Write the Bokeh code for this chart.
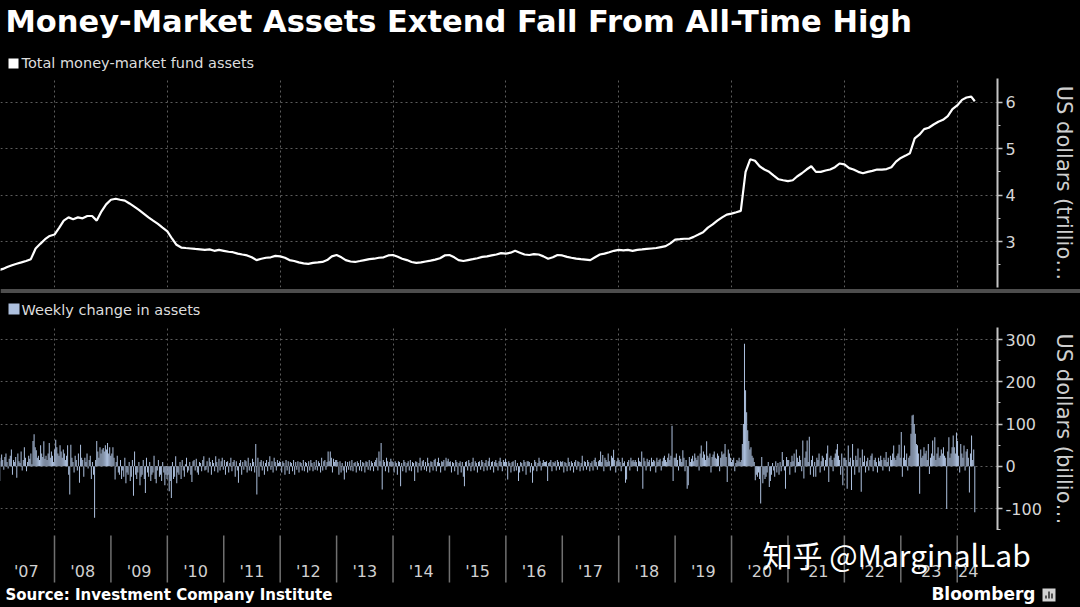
import numpy as np
import pandas as pd
from bokeh.plotting import figure
from bokeh.models import Range1d, FixedTicker, Span, Label
from bokeh.layouts import column
from bokeh.embed import file_html
from bokeh.resources import INLINE
from bokeh.core.properties import value

# ---------------- data ----------------
TITLE = "Money-Market Assets Extend Fall From All-Time High"
LEGEND_TOP = "Total money-market fund assets"
LEGEND_BOTTOM = "Weekly change in assets"
SOURCE = "Source: Investment Company Institute"
WATERMARK = "知乎 @MarginalLab"

# Total money-market fund assets, US$ trillions, first of each month
lvl_2007 = [2.38, 2.41, 2.45, 2.49, 2.52, 2.55, 2.58, 2.62, 2.85, 2.95, 3.05, 3.12]
lvl_2008 = [3.15, 3.30, 3.45, 3.52, 3.48, 3.52, 3.50, 3.55, 3.55, 3.45, 3.65, 3.80]
lvl_2009 = [3.90, 3.92, 3.90, 3.88, 3.82, 3.75, 3.68, 3.60, 3.52, 3.45, 3.38, 3.30]
lvl_2010 = [3.22, 3.06, 2.93, 2.87, 2.86, 2.85, 2.84, 2.83, 2.82, 2.83, 2.80, 2.82]
lvl_2011 = [2.80, 2.78, 2.77, 2.74, 2.72, 2.70, 2.66, 2.60, 2.63, 2.65, 2.66, 2.69]
lvl_2012 = [2.68, 2.65, 2.60, 2.58, 2.55, 2.53, 2.52, 2.54, 2.55, 2.56, 2.60, 2.68]
lvl_2013 = [2.71, 2.66, 2.60, 2.57, 2.56, 2.58, 2.60, 2.62, 2.63, 2.65, 2.66, 2.70]
lvl_2014 = [2.71, 2.67, 2.63, 2.60, 2.56, 2.54, 2.55, 2.57, 2.59, 2.61, 2.64, 2.70]
lvl_2015 = [2.71, 2.66, 2.60, 2.58, 2.60, 2.62, 2.64, 2.67, 2.68, 2.70, 2.72, 2.75]
lvl_2016 = [2.74, 2.76, 2.80, 2.76, 2.72, 2.71, 2.73, 2.72, 2.68, 2.63, 2.66, 2.71]
lvl_2017 = [2.70, 2.67, 2.65, 2.63, 2.62, 2.61, 2.60, 2.66, 2.72, 2.74, 2.77, 2.80]
lvl_2018 = [2.82, 2.81, 2.82, 2.80, 2.82, 2.83, 2.84, 2.85, 2.86, 2.88, 2.90, 2.96]
lvl_2019 = [3.04, 3.05, 3.06, 3.06, 3.10, 3.15, 3.20, 3.30, 3.37, 3.45, 3.52, 3.58]
lvl_2020 = [3.60, 3.63, 3.66, 4.50, 4.77, 4.74, 4.62, 4.55, 4.50, 4.42, 4.34, 4.32]
lvl_2021 = [4.30, 4.32, 4.40, 4.47, 4.55, 4.62, 4.50, 4.50, 4.53, 4.55, 4.60, 4.68]
lvl_2022 = [4.66, 4.58, 4.55, 4.50, 4.47, 4.50, 4.52, 4.55, 4.55, 4.56, 4.60, 4.72]
lvl_2023 = [4.80, 4.85, 4.90, 5.22, 5.30, 5.42, 5.45, 5.52, 5.58, 5.62, 5.70, 5.85]
lvl_2024 = [5.93, 6.05, 6.10, 6.12]
lvl_latest_date = "2024-04-24"
lvl_latest = 6.02

# Weekly change in assets, US$ billions (weeks ending Wednesday)
chg = {
    2007: [-35, 12, 20, 28, 15, -8, 22, 30, 10, -5, 18, 25, 40, -20, 15, 10, 22, -27, 30, 12,
           8, 35, -10, 15, 45, 20, -12, 10, 25, 18, 30, 5, 60, 76, 45, 38, 20, 25, 15, 50,
           30, 22, 59, 18, 25, 15, 30, 55, 20, 35, 25, 10],
    2008: [40, 63, 45, 30, 25, 50, 35, 20, 40, 30, 15, 25, 50, -20, -67, 51, 20, 10, -15, 25,
           15, -10, 30, -39, 51, 20, 15, -25, 20, 10, 30, -5, 15, 25, -30, 10, -20, -122, 15, 60,
           35, 20, 45, 30, 40, 43, 35, 50, 40, 55, 30, 45, 25],
    2009: [30, 45, 20, -31, 10, 25, -15, -20, 15, -30, -10, -25, 20, -40, -15, -20, 10, -35, -25, 15,
           -70, 35, -20, -30, -15, 10, -45, -25, -20, 15, -30, -63, 20, -15, -25, 10, -35, -20, -15, 25,
           -30, -40, -10, 15, -25, -20, -35, 10, -15, -45, -20, -30],
    2010: [-20, -59, -35, -75, 10, -30, -25, 24, -40, -15, -20, 10, -30, 15, -10, -25, 5, 20, -15, -10,
           10, -20, -37, 12, 15, -10, 18, -15, -20, 10, 8, -12, 15, 24, -10, -8, 12, -15, 20, 10,
           -20, 15, 8, -12, 24, 10, -15, 18, -10, 12, 20, -8],
    2011: [15, -20, 10, 12, -15, 8, 20, -12, 10, 15, -25, 12, -10, -39, 8, 15, -20, 10, -8, 15,
           12, -15, 20, -10, 8, -12, 18, 10, -15, 53, -67, 20, -25, 10, 15, -10, 12, -20, 8, 15,
           -12, 10, 24, -8, 12, -15, 20, 10, -10, 15, 8, 12],
    2012: [10, -15, 12, 8, -20, 15, -10, 12, -18, 10, 8, -12, 15, -20, 10, -8, 12, -15, 10, 8,
           -10, 15, -12, 10, 8, -15, 12, -10, 15, 8, -12, 10, -8, 15, -10, 12, 8, -15, 20, -10,
           12, 15, -8, 10, 35, 12, 35, 20, -15, 18, 10, 15],
    2013: [15, 10, -20, 12, -15, 8, -10, -31, 12, -15, 10, -8, 12, -10, 15, -12, 8, 10, -15, 12,
           8, -10, 15, -12, 10, 8, -15, 12, 10, -8, 15, -10, 12, 8, -12, 10, 15, 20, -10, 35,
           12, 55, -55, 15, 10, -12, 20, 12, -15, 10, 18, 12],
    2014: [10, -15, 12, 8, -20, 12, 10, -47, 8, -12, 15, 10, -15, 8, 12, -10, 15, -12, 10, 8,
           -35, 12, 10, -15, 8, 20, -10, 12, 15, -8, 10, -12, 20, 8, -15, 12, 10, -10, 15, 18,
           -12, 10, 20, 8, -15, 12, 10, 15, -10, 20, 12, 18, 10],
    2015: [12, -15, 10, 8, -12, 15, 10, -20, 8, 12, -15, 10, -25, -47, 10, 12, -10, 15, 8, -12,
           10, 20, -10, 12, 8, -15, 10, 12, -8, 15, 10, -12, 8, 15, -10, 12, 20, -8, 10, 12,
           -15, 10, 15, 8, -10, 12, 20, 10, -12, 15, 10, 18],
    2016: [10, -31, 12, 8, -15, 10, 12, -12, 15, -10, 8, -35, -15, 10, 8, -12, 15, 10, -20, 12,
           12, 10, -15, 8, -39, -10, 15, 10, -12, 8, 20, 12, -10, 8, 15, 10, 10, 12, -35, 8,
           10, 15, -12, 10, 8, 12, -10, 15, 10, -8, 12, 10],
    2017: [12, -15, 10, 8, -12, 20, 10, -10, 12, 8, -15, 10, 15, -8, 12, 10, -12, 8, 25, -10,
           12, 10, -8, 15, 10, -12, 8, 12, -10, 15, 20, 10, -8, 12, 15, 35, 10, 27, -12, 20,
           15, 10, 30, 12, -10, 25, 20, 39, 15, -15, 12, 20],
    2018: [15, 10, -12, 20, 8, 12, -39, -31, 10, 15, -10, 20, 12, 15, 10, 15, 10, -12, 20, 12,
           10, 35, -53, 20, 12, -10, 18, 10, 15, -12, 20, 10, 15, 12, -15, 20, 10, 15, 18, -10,
           12, 20, 25, 15, 10, 20, 30, 15, 25, 96, -35, 20],
    2019: [20, 30, 15, -10, 25, 18, 10, 38, 20, -12, 15, -53, -45, 22, 10, 18, 25, 12, 30, 20,
           15, 25, -10, 30, 49, 20, 35, 28, 15, 59, 25, 20, 30, -15, 22, 28, 35, 20, 18, 30,
           25, -12, 20, 35, 28, 30, 53, 22, -37, 40, 30, 20],
    2020: [10, 15, 20, -12, 8, 15, 12, 20, 10, 15, 53, 100, 290, 180, 128, 85, 60, 40, 45, 25,
           20, 10, -33, -20, -25, -15, -30, -88, 22, -40, -20, -30, -25, -15, 10, -49, -35, -20, 8, -10,
           -25, 12, -15, 8, -20, 10, -12, 34, 15, -10, -53, 22, 15],
    2021: [15, -20, 10, 25, 12, 30, -15, 40, 20, 10, 25, 15, -12, 61, -29, 20, 35, 61, 10, 70,
           -20, 15, 25, -25, 10, -25, 20, 15, 30, -15, 12, 25, 20, -10, 15, 30, 49, -37, 20, 25,
           15, -12, 20, 30, 40, 53, 25, 15, -20, 30, -45, 20],
    2022: [20, 15, -53, 49, 10, 20, -56, 53, 15, -20, 25, 15, 42, -15, 20, -60, 40, 10, 25, -15,
           12, 20, -10, 15, 25, 30, -12, 15, 20, 10, -15, 20, 12, 25, 15, -10, 20, 15, 34, 10,
           20, -12, 25, 15, 30, 49, 20, 15, 25, 30, 51, 20],
    2023: [81, -25, 20, 49, 15, 30, -10, 20, 25, 77, 120, 122, 100, 77, 53, 50, 30, -65, 40, 20,
           25, 45, 30, 37, 15, 53, -18, 20, 30, 61, 25, 69, 15, 30, 45, 20, 25, 40, 30, 45,
           25, 20, -101, 35, 69, 20, 30, 45, 73, 45, 30, 80],
    2024: [60, 25, -15, 53, 30, 20, 49, -10, 35, 41, 20, -62, 30, 73, 15, 40, -109],
}

YEAR_TICKS = list(range(2007, 2025))
YEAR_LABELS = ["'07", "'08", "'09", "'10", "'11", "'12", "'13", "'14", "'15",
               "'16", "'17", "'18", "'19", "'20", "'21", "'22", "'23", "'24"]
TOP_TICKS = [3, 4, 5, 6]
TOP_MINOR = [2.5, 3.5, 4.5, 5.5]
BOT_TICKS = [-100, 0, 100, 200, 300]
BOT_MINOR = [-150, -50, 50, 150, 250]
GRID_YEARS = list(range(2008, 2025, 2))

# ---------------- helpers ----------------
def dec_year(dates):
    d = pd.DatetimeIndex(dates)
    days = np.where(d.is_leap_year, 366.0, 365.0)
    return np.asarray(d.year + (d.dayofyear - 1) / days, dtype=float)

lvl_vals = (lvl_2007 + lvl_2008 + lvl_2009 + lvl_2010 + lvl_2011 + lvl_2012 + lvl_2013 +
            lvl_2014 + lvl_2015 + lvl_2016 + lvl_2017 + lvl_2018 + lvl_2019 + lvl_2020 +
            lvl_2021 + lvl_2022 + lvl_2023 + lvl_2024)
lvl_dates = list(pd.date_range("2007-01-01", periods=len(lvl_vals), freq="MS")) + [pd.Timestamp(lvl_latest_date)]
lvl_x = dec_year(lvl_dates)
lvl_y = lvl_vals + [lvl_latest]

chg_dates, chg_vals = [], []
for yr, vals in chg.items():
    wk = pd.date_range(f"{yr}-01-01", f"{yr}-12-31", freq="W-WED")[:len(vals)]
    chg_dates += list(wk)
    chg_vals += vals[:len(wk)]
chg_x = dec_year(chg_dates)
LAST_X = float(chg_x[-1])

# ---------------- layout constants (px) ----------------
W = 1080
FRAME_RIGHT = 997
X0 = 2008 - 54 / 56.42
X1 = 2008 + (FRAME_RIGHT - 54) / 56.42
BG = "#000000"
FONT = "DejaVu Sans"
AXIS_COL = "#c4c4c4"
TICK_TXT = "#d6d6d6"
GRID_COL = "#5c5c5c"
BAR_COL = "#adc0de"


def strip(h, xr=None):
    p = figure(width=W, height=h, output_backend="svg", toolbar_location=None,
               x_range=xr if xr is not None else Range1d(0, W), y_range=Range1d(0, h),
               min_border=0, background_fill_color=BG, border_fill_color=BG,
               outline_line_color=None, x_axis_location=None, y_axis_location=None,
               frame_align=False)
    p.grid.visible = False
    return p


def style_panel(p, ticks, minor, label, label_standoff):
    p.xgrid.ticker = FixedTicker(ticks=GRID_YEARS)
    p.xgrid.grid_line_color = GRID_COL
    p.xgrid.grid_line_dash = "2 3"
    p.ygrid.grid_line_color = GRID_COL
    p.ygrid.grid_line_dash = "2 3"
    ax = p.yaxis[0]
    ax.ticker = FixedTicker(ticks=ticks, minor_ticks=minor)
    ax.major_label_overrides = {t: ("-%d" % abs(t) if t < 0 else "%g" % t) for t in ticks}
    ax.axis_line_color = AXIS_COL
    ax.axis_line_width = 2
    ax.major_tick_line_color = AXIS_COL
    ax.major_tick_line_width = 1.5
    ax.major_tick_out = 5
    ax.major_tick_in = 0
    ax.minor_tick_line_color = AXIS_COL
    ax.minor_tick_out = 3
    ax.minor_tick_in = 0
    ax.major_label_standoff = 3
    ax.major_label_text_font = FONT
    ax.major_label_text_font_size = "16px"
    ax.major_label_text_color = TICK_TXT
    ax.axis_label = label
    ax.axis_label_text_font = FONT
    ax.axis_label_text_font_style = "normal"
    ax.axis_label_text_font_size = "21px"
    ax.axis_label_text_color = "#cfcfcf"
    ax.axis_label_standoff = label_standoff


# ---- header: title + first legend (0-77) ----
h1 = strip(77)
h1.text(x=[5], y=[56], text=[TITLE], text_font=value(FONT), text_font_style="bold",
        text_font_size="30.5px", text_color="#ffffff", text_baseline="alphabetic", text_align="left")
h1.scatter(x=[13], y=[14], marker="square", size=10, fill_color="#ffffff", line_color=None)
h1.text(x=[21], y=[15], text=[LEGEND_TOP], text_font=value(FONT), text_font_size="14.5px",
        text_color="#dddddd", text_baseline="alphabetic", text_align="left")

# ---- top panel (77-288) ----
pa = figure(width=W, height=211, output_backend="svg", toolbar_location=None,
            x_range=Range1d(X0, X1), y_range=Range1d(2.01, 6.51),
            x_axis_location=None, y_axis_location="right",
            min_border_left=0, min_border_right=W - FRAME_RIGHT, min_border_top=1, min_border_bottom=1,
            background_fill_color=BG, border_fill_color=BG, outline_line_color=None)
style_panel(pa, TOP_TICKS, TOP_MINOR, "US dollars (trillio\u2026", 33)
pa.line(lvl_x, lvl_y, line_color="#ffffff", line_width=2.2)

# ---- separator + second legend (288-326) ----
h2 = strip(38)
h2.add_layout(Span(location=35.5, dimension="width", line_color="#4d4d4d", line_width=4))
h2.scatter(x=[13.5], y=[17.5], marker="square", size=11, fill_color=BAR_COL, line_color=None)
h2.text(x=[21], y=[17], text=[LEGEND_BOTTOM], text_font=value(FONT), text_font_size="14.5px",
        text_color="#dddddd", text_baseline="alphabetic", text_align="left")

# ---- bottom panel (326-530) ----
pb = figure(width=W, height=204, output_backend="svg", toolbar_location=None,
            x_range=pa.x_range, y_range=Range1d(-152, 328.5),
            x_axis_location=None, y_axis_location="right",
            min_border_left=0, min_border_right=W - FRAME_RIGHT, min_border_top=1, min_border_bottom=0,
            background_fill_color=BG, border_fill_color=BG, outline_line_color=None)
style_panel(pb, BOT_TICKS, BOT_MINOR, "US dollars (billio\u2026", 7)
pb.vbar(x=chg_x, top=chg_vals, bottom=0, width=6.5 / 365.0, fill_color=BAR_COL, line_color=None)

# ---- x-axis strip + footer (530-607) ----
XC1 = X0 + (X1 - X0) * W / FRAME_RIGHT


def px2yr(px):
    return X0 + px * (XC1 - X0) / W


pc = strip(77, Range1d(X0, XC1))
sep_x = [y for y in YEAR_TICKS if y > X0 and y < X1]
pc.segment(x0=sep_x, y0=[72] * len(sep_x), x1=sep_x, y1=[25] * len(sep_x),
           line_color="#707070", line_width=1.5)
mid_x = [min(y + 0.5, (y + LAST_X) / 2) for y in YEAR_TICKS]
pc.text(x=mid_x, y=[36] * len(mid_x), text=YEAR_LABELS, text_font=value(FONT), text_font_size="16px",
        text_color="#d0d0d0", text_align="center", text_baseline="alphabetic")
pc.add_layout(Label(x=5, y=13, x_units="screen", y_units="screen", text=SOURCE,
                    text_font=FONT, text_font_style="bold", text_font_size="15px",
                    text_color="#ffffff", text_baseline="alphabetic"))
pc.add_layout(Label(x=1035, y=14, x_units="screen", y_units="screen", text="Bloomberg",
                    text_font=FONT, text_font_style="bold", text_font_size="17px",
                    text_color="#ffffff", text_align="right", text_baseline="alphabetic"))
# small Bloomberg badge next to the wordmark
pc.quad(left=[px2yr(1042)], right=[px2yr(1055)], bottom=[6], top=[19],
        fill_color="#d2d2d2", line_color=None)
pc.segment(x0=[px2yr(1045.5), px2yr(1048.5), px2yr(1051.5)], y0=[9, 9, 9],
           x1=[px2yr(1045.5), px2yr(1048.5), px2yr(1051.5)], y1=[12, 16, 14],
           line_color="#333333", line_width=1.6)
pc.add_layout(Label(x=762, y=54, x_units="screen", y_units="screen", text=WATERMARK,
                    text_font="Noto Sans CJK SC", text_font_size="30px",
                    text_color="#ffffff", text_baseline="alphabetic"))

layout = column(h1, pa, h2, pb, pc, spacing=0)
TEMPLATE = "{% block postamble %}<style>html, body { background-color: #000000; }</style>{% endblock %}"
open("out.html", "w").write(file_html(layout, INLINE, template=TEMPLATE))
